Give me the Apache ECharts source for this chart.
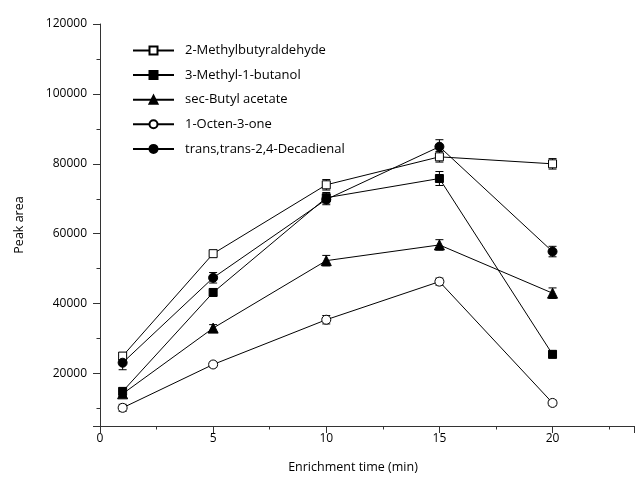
<!DOCTYPE html>
<html>
<head>
<meta charset="utf-8">
<script src="https://cdn.jsdelivr.net/npm/echarts@6/dist/echarts.min.js"></script>
<style>html,body{margin:0;padding:0;background:#fff}#c{width:637px;height:481px}</style>
</head>
<body>
<div id="c"></div>
<script>
const times = [1, 5, 10, 15, 20];
const names = ['2-Methylbutyraldehyde', '3-Methyl-1-butanol', 'sec-Butyl acetate', '1-Octen-3-one', 'trans,trans-2,4-Decadienal'];
const methylbutyraldehyde = [25000, 54300, 74000, 82000, 80000];
const methylbutanol = [14900, 43200, 70300, 75800, 25500];
const butylAcetate = [14200, 33000, 52300, 56800, 43000];
const octenone = [10200, 22600, 35400, 46300, 11600];
const decadienal = [23100, 47400, 69800, 84900, 54900];
const errMethylbutyraldehyde = [1000, 800, 1500, 1500, 1500];
const errMethylbutanol = [1000, 1000, 1500, 2000, 1000];
const errButylAcetate = [800, 1000, 1500, 1500, 1500];
const errOctenone = [1000, 800, 1200, 1000, 800];
const errDecadienal = [2000, 1500, 1500, 2000, 1500];
const yTicks = [20000, 40000, 60000, 80000, 100000, 120000];
const xTicks = [0, 5, 10, 15, 20];

const values = [methylbutyraldehyde, methylbutanol, butylAcetate, octenone, decadienal];
const errs = [errMethylbutyraldehyde, errMethylbutanol, errButylAcetate, errOctenone, errDecadienal];
const symbols = ['rect', 'rect', 'triangle', 'circle', 'circle'];
const sizes = [8, 8, 10, 9, 9];
const filled = [false, true, true, false, true];

const font = '"Open Sans", "Noto Sans", sans-serif';
const series = [];
names.forEach((n, i) => {
  series.push({
    type: 'custom',
    name: n + ' err',
    z: 1,
    silent: true,
    data: times.map((t, k) => [t, values[i][k] - errs[i][k], values[i][k] + errs[i][k]]),
    encode: {x: 0, y: [1, 2]},
    renderItem: function (params, api) {
      const lo = api.coord([api.value(0), api.value(1)]);
      const hi = api.coord([api.value(0), api.value(2)]);
      const w = 4;
      const st = {stroke: '#000', lineWidth: 1};
      return {type: 'group', children: [
        {type: 'line', shape: {x1: lo[0], y1: lo[1], x2: hi[0], y2: hi[1]}, style: st},
        {type: 'line', shape: {x1: lo[0] - w, y1: lo[1], x2: lo[0] + w, y2: lo[1]}, style: st},
        {type: 'line', shape: {x1: hi[0] - w, y1: hi[1], x2: hi[0] + w, y2: hi[1]}, style: st}
      ]};
    }
  });
});
names.forEach((n, i) => {
  series.push({
    type: 'line',
    name: n,
    z: 3,
    data: times.map((t, k) => [t, values[i][k]]),
    symbol: symbols[i],
    symbolSize: sizes[i],
    showAllSymbol: true,
    lineStyle: {color: '#000', width: 1},
    itemStyle: {color: filled[i] ? '#000' : '#fff', borderColor: '#000', borderWidth: 1},
    emphasis: {disabled: true},
    animation: false
  });
});

const chart = echarts.init(document.getElementById('c'), null, {renderer: 'canvas'});
chart.setOption({
  animation: false,
  backgroundColor: '#fff',
  textStyle: {fontFamily: font},
  grid: {left: 100, right: 0, top: 24, bottom: 55, containLabel: false},
  legend: {
    data: names,
    orient: 'vertical',
    left: 132,
    top: 44,
    padding: 0,
    itemWidth: 41,
    itemHeight: 10,
    itemGap: 11.6,
    textStyle: {fontFamily: font, fontSize: 13, color: '#000', padding: [0, 0, 0, 6]},
    inactiveColor: '#000'
  },
  xAxis: {
    type: 'value',
    min: 0,
    max: 23.6,
    interval: 5,
    name: 'Enrichment time (min)',
    nameLocation: 'middle',
    nameGap: 35,
    nameTextStyle: {fontFamily: font, fontSize: 12.5, color: '#000', padding: [0, 28, 0, 0]},
    splitLine: {show: false},
    axisLine: {lineStyle: {color: '#333', width: 1}},
    axisTick: {length: 7, lineStyle: {color: '#333'}},
    minorTick: {show: true, splitNumber: 2, length: 3.5, lineStyle: {color: '#333'}},
    axisLabel: {color: '#000', fontSize: 12, fontFamily: font, margin: 7,
      formatter: v => (xTicks.indexOf(v) >= 0 ? String(v) : '')}
  },
  yAxis: {
    type: 'value',
    min: 5000,
    max: 120000,
    minInterval: 20000,
    maxInterval: 20000,
    name: 'Peak area',
    nameLocation: 'middle',
    nameGap: 74,
    nameTextStyle: {fontFamily: font, fontSize: 12.5, color: '#000'},
    splitLine: {show: false},
    axisLine: {show: true, lineStyle: {color: '#333', width: 1}},
    axisTick: {show: true, length: 7, lineStyle: {color: '#333'}},
    minorTick: {show: true, splitNumber: 2, length: 3.5, lineStyle: {color: '#333'}},
    axisLabel: {color: '#000', fontSize: 12, fontFamily: font, margin: 13, showMinLabel: false,
      formatter: v => (yTicks.indexOf(v) >= 0 ? String(v) : '')}
  },
  series: series
});
</script>
</body>
</html>
